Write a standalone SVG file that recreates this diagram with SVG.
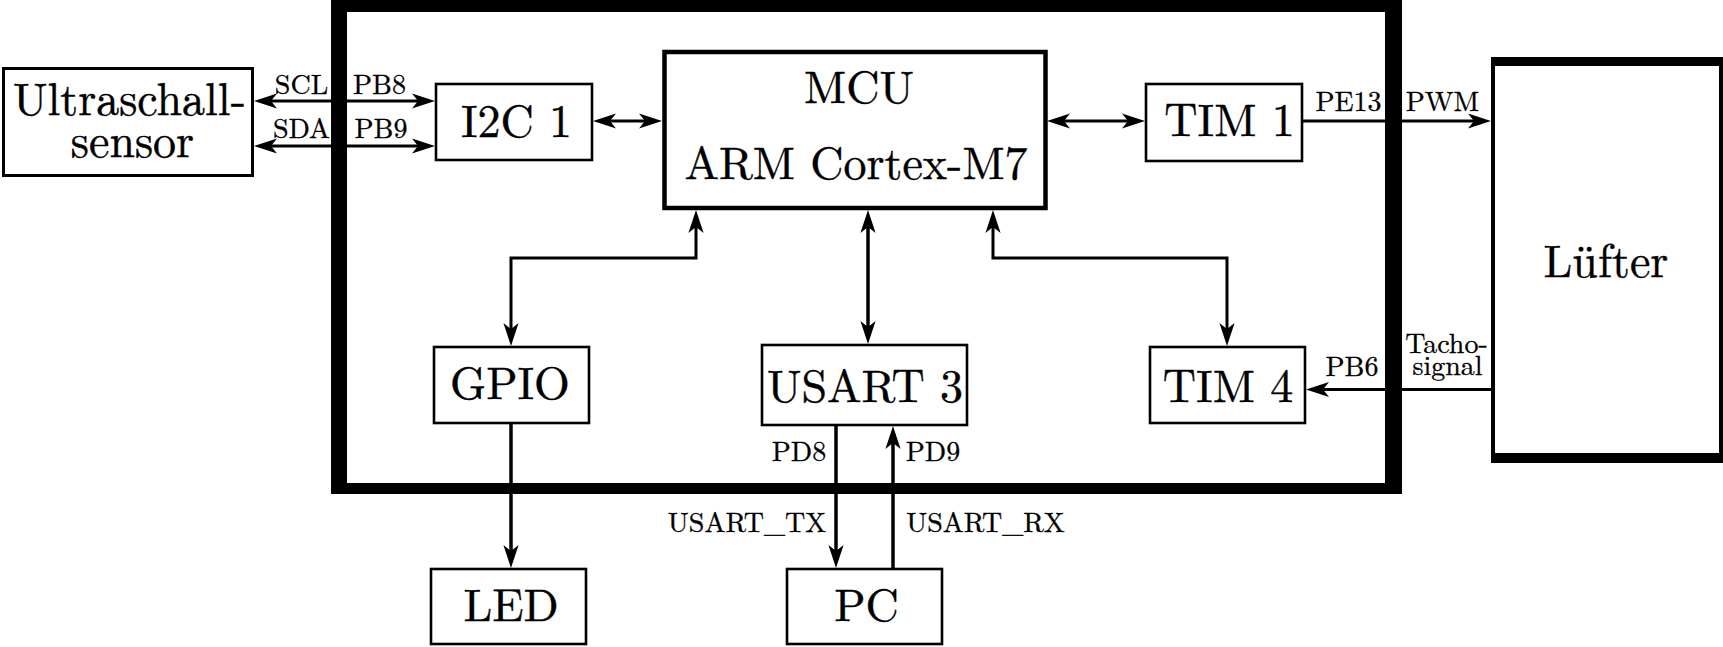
<svg xmlns="http://www.w3.org/2000/svg" width="1723" height="647" viewBox="0 0 1723 647">
<style>
.box{fill:#fff;stroke:#000;stroke-width:2.6}
.big{font-size:46px;fill:#000;stroke:#000;stroke-width:0.4;text-anchor:middle}
.sm{font-size:28px;fill:#000;stroke:#000;stroke-width:0.3;text-anchor:middle}
.con{fill:none;stroke:#000;stroke-width:3}
.v{stroke-width:3.5}
.a2{marker-start:url(#ah);marker-end:url(#ah)}
.a1{marker-end:url(#ah)}
</style>
<defs>
<marker id="ah" viewBox="-14 -10 28 20" refX="0" refY="0" markerWidth="28" markerHeight="20" markerUnits="userSpaceOnUse" orient="auto-start-reverse">
<path d="M12,0 L-11,-7.6 L-5,0 L-11,7.6 Z" fill="#000"/>
</marker>
</defs>
<rect width="1723" height="647" fill="#fff"/>
<g id="board">
<path d="M331,0 H1402 V494 H331 Z M347,12 V483 H1385 V12 Z" fill="#000" fill-rule="evenodd"/>
</g>
<g id="ultraschall">
<rect x="3.5" y="68.5" width="249" height="107" fill="#fff" stroke="#000" stroke-width="3"/>
<text class="big" font-family="Latin Modern Roman" x="129.5" y="115">Ultraschall-</text>
<text class="big" font-family="Latin Modern Roman" x="132.5" y="157">sensor</text>
</g>
<g id="i2c1">
<rect class="box" x="436" y="84" width="156" height="76"/>
<text class="big" font-family="Latin Modern Roman" x="516.5" y="137">I2C 1</text>
</g>
<g id="mcu">
<rect x="664.5" y="52" width="381" height="156" fill="#fff" stroke="#000" stroke-width="4.5"/>
<text class="big" font-family="Latin Modern Roman" x="859" y="103">MCU</text>
<text class="big" font-family="Latin Modern Roman" x="856" y="179">ARM Cortex-M7</text>
</g>
<g id="tim1">
<rect class="box" x="1146" y="84" width="156" height="77"/>
<text class="big" font-family="Latin Modern Roman" x="1229.5" y="136">TIM 1</text>
</g>
<g id="gpio">
<rect class="box" x="434" y="347" width="155" height="76"/>
<text class="big" font-family="Latin Modern Roman" x="510" y="399">GPIO</text>
</g>
<g id="usart3">
<rect class="box" x="762" y="345" width="205" height="80"/>
<text class="big" font-family="Latin Modern Roman" x="865" y="402">USART 3</text>
</g>
<g id="tim4">
<rect class="box" x="1150" y="347" width="155" height="76"/>
<text class="big" font-family="Latin Modern Roman" x="1228" y="402">TIM 4</text>
</g>
<g id="led">
<rect class="box" x="431" y="569" width="155" height="75"/>
<text class="big" font-family="Latin Modern Roman" x="511" y="621">LED</text>
</g>
<g id="pc">
<rect class="box" x="787" y="569" width="155" height="75"/>
<text class="big" font-family="Latin Modern Roman" x="866.5" y="621">PC</text>
</g>
<g id="luefter">
<path d="M1491,57 H1723 V463 H1491 Z M1495,66 V453 H1719 V66 Z" fill="#000" fill-rule="evenodd"/>
<text class="big" font-family="Latin Modern Roman" x="1606" y="277">Lüfter</text>
</g>
<g id="connectors">
<path class="con a2" d="M266,101 H423"/>
<path class="con a2" d="M266,146 H423"/>
<path class="con a2" d="M605,121 H650"/>
<path class="con a2" d="M1059,121 H1133"/>
<path class="con a1" d="M1303,121 H1479"/>
<path class="con a1" d="M1491,389.5 H1318"/>
<path class="con a2" d="M696,222 V258 H511 V334" stroke-width="3.2"/>
<path class="con v a2" d="M868,222 V332"/>
<path class="con a2" d="M993,222 V258 H1227 V334" stroke-width="3.2"/>
<path class="con v a1" d="M511,424 V556"/>
<path class="con v a1" d="M836,426 V556"/>
<path class="con v a1" d="M893,568 V438"/>
<text class="sm" font-family="Latin Modern Roman" x="301.5" y="94">SCL</text>
<text class="sm" font-family="Latin Modern Roman" x="379.5" y="94">PB8</text>
<text class="sm" font-family="Latin Modern Roman" x="301.5" y="138">SDA</text>
<text class="sm" font-family="Latin Modern Roman" x="381" y="138">PB9</text>
<text class="sm" font-family="Latin Modern Roman" x="1348.5" y="111">PE13</text>
<text class="sm" font-family="Latin Modern Roman" x="1442.5" y="111">PWM</text>
<text class="sm" font-family="Latin Modern Roman" x="1352" y="376">PB6</text>
<text class="sm" font-family="Latin Modern Roman" x="1446.5" y="353" font-size="26">Tacho-</text>
<text class="sm" font-family="Latin Modern Roman" x="1447.5" y="375" font-size="26">signal</text>
<text class="sm" font-family="Latin Modern Roman" x="799" y="461">PD8</text>
<text class="sm" font-family="Latin Modern Roman" x="933" y="461">PD9</text>
<text class="sm" font-family="Latin Modern Roman" x="747" y="532">USART_TX</text>
<text class="sm" font-family="Latin Modern Roman" x="985.5" y="532">USART_RX</text>
</g>
</svg>
